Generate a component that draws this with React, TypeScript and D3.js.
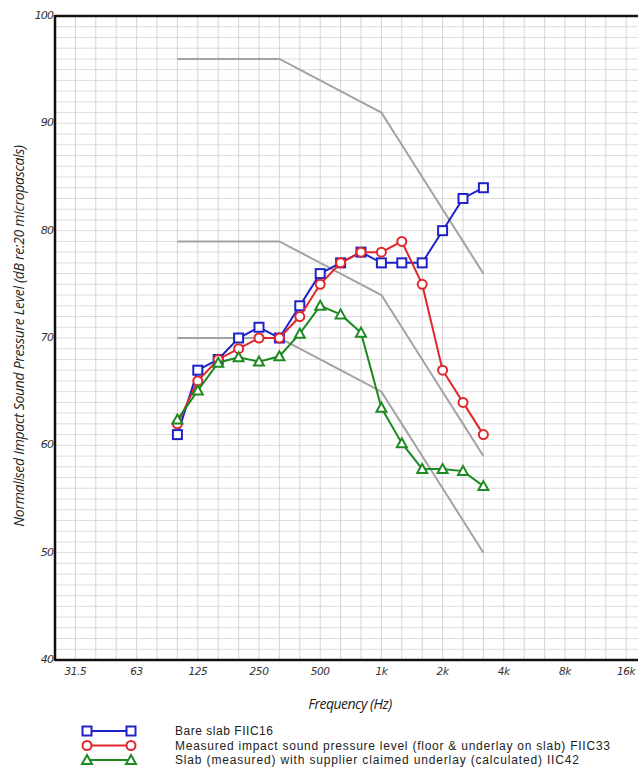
import React from "react";
import * as d3 from "d3";

const bands = ["25","31.5","40","50","63","80","100","125","160","200","250","315","400","500","630","800","1000","1250","1600","2000","2500","3150","4000","5000","6300","8000","10000","12500","16000","20000"];
const dataBands = ["100","125","160","200","250","315","400","500","630","800","1000","1250","1600","2000","2500","3150"];
const bareSlab = [61, 67, 68, 70, 71, 70, 73, 76, 77, 78, 77, 77, 77, 80, 83, 84];
const measured = [62, 66, 68, 69, 70, 70, 72, 75, 77, 78, 78, 79, 75, 67, 64, 61];
const claimed = [62.4, 65.1, 67.7, 68.2, 67.8, 68.3, 70.4, 73, 72.2, 70.5, 63.5, 60.2, 57.8, 57.8, 57.6, 56.2];
const refTop = [96, 96, 96, 96, 96, 96, 95, 94, 93, 92, 91, 88, 85, 82, 79, 76];
const refMid = [79, 79, 79, 79, 79, 79, 78, 77, 76, 75, 74, 71, 68, 65, 62, 59];
const refLow = [70, 70, 70, 70, 70, 70, 69, 68, 67, 66, 65, 62, 59, 56, 53, 50];
const xTickBands = ["31.5","63","125","250","500","1000","2000","4000","8000","16000"];
const xTickLabels = ["31.5","63","125","250","500","1k","2k","4k","8k","16k"];
const yTicks = [40, 50, 60, 70, 80, 90, 100];
const legendLabels = [
  "Bare slab FIIC16",
  "Measured impact sound pressure level (floor & underlay on slab) FIIC33",
  "Slab (measured) with supplier claimed underlay (calculated) IIC42",
];

const BLUE = "#1f22c8";
const RED = "#e0262a";
const GREEN = "#1e8a22";
const GREY = "#a3a3a3";

const left = 55, top = 16, bottom = 660;
const step = 20.4;

export default function App() {
  const x = d3.scaleLinear().domain([0, bands.length - 1]).range([left, left + (bands.length - 1) * step]);
  const xf = (f: string) => x(bands.indexOf(f));
  const y = d3.scaleLinear().domain([40, 100]).range([bottom, top]);
  const line = d3.line<[number, number]>().x(d => d[0]).y(d => d[1]);
  const pts = (vals: number[]) => dataBands.map((b, i) => [xf(b), y(vals[i])] as [number, number]);
  const right = x(bands.length - 1) + 10;
  const legendWidths = [98, 435, 404];

  const square = (cx: number, cy: number, c: string, k: string) => (
    <rect key={k} x={cx - 4.5} y={cy - 4.5} width={9} height={9} fill="white" stroke={c} strokeWidth={2} />
  );
  const circle = (cx: number, cy: number, c: string, k: string) => (
    <circle key={k} cx={cx} cy={cy} r={4.5} fill="white" stroke={c} strokeWidth={2} />
  );
  const tri = (cx: number, cy: number, c: string, k: string) => (
    <path key={k} d={`M${cx},${cy - 5}L${cx + 5},${cy + 4}L${cx - 5},${cy + 4}Z`} fill="white" stroke={c} strokeWidth={2} />
  );

  const series = [
    { vals: bareSlab, color: BLUE, marker: square },
    { vals: measured, color: RED, marker: circle },
    { vals: claimed, color: GREEN, marker: tri },
  ];

  const hLines = d3.range(41, 100);

  return (
    <svg width={638} height={776} style={{ position: "absolute", left: 0, top: 0, background: "white" }}>
      <rect x={0} y={0} width={638} height={776} fill="white" />
      {/* grid */}
      {hLines.map(v => (
        <line key={"h" + v} x1={left} x2={right} y1={y(v)} y2={y(v)} stroke="#dcdcdc" strokeWidth={1} />
      ))}
      {bands.map((b, i) => i > 0 && (
        <line key={"v" + b} x1={x(i)} x2={x(i)} y1={top} y2={bottom} stroke="#d4d4d4" strokeWidth={1} />
      ))}
      {/* reference contours */}
      {[refTop, refMid, refLow].map((r, i) => (
        <path key={"r" + i} d={line(pts(r)) || ""} fill="none" stroke={GREY} strokeWidth={2} />
      ))}
      {/* series */}
      {series.map((s, si) => (
        <g key={"s" + si}>
          <path d={line(pts(s.vals)) || ""} fill="none" stroke={s.color} strokeWidth={2} />
          {pts(s.vals).map((p, i) => s.marker(p[0], p[1], s.color, si + "-" + i))}
        </g>
      ))}
      {/* frame */}
      <line x1={left} x2={right} y1={top} y2={top} stroke="#111" strokeWidth={2.5} />
      <line x1={left} x2={left} y1={top - 1} y2={bottom + 1} stroke="#111" strokeWidth={2.5} />
      <line x1={left} x2={right} y1={bottom} y2={bottom} stroke="#111" strokeWidth={2.5} />
      {/* y ticks */}
      {yTicks.map(v => (
        <text key={"yt" + v} x={left - 2} y={y(v) + 3} textAnchor="end" fontFamily="DejaVu Sans" fontStyle="italic" fontSize={11} letterSpacing={-0.9} fill="#333">{v}</text>
      ))}
      {/* x ticks */}
      {xTickBands.map((b, i) => (
        <text key={"xt" + b} x={xf(b)} y={675} textAnchor="middle" fontFamily="DejaVu Sans" fontStyle="italic" fontSize={10.5} letterSpacing={-0.4} fill="#333">{xTickLabels[i]}</text>
      ))}
      {/* axis titles */}
      <text x={350} y={709} textAnchor="middle" fontFamily="Open Sans" fontStyle="italic" fontSize={14} letterSpacing={-0.5} fill="#222">Frequency (Hz)</text>
      <text transform={`translate(24,336) rotate(-90)`} textAnchor="middle" fontFamily="Open Sans" fontStyle="italic" fontSize={14} letterSpacing={-0.3} fill="#222">Normalised Impact Sound Pressure Level (dB re:20 micropascals)</text>
      {/* legend */}
      {series.map((s, i) => {
        const ly = 731 + i * 14.5;
        return (
          <g key={"lg" + i}>
            <line x1={87} x2={131} y1={ly} y2={ly} stroke={s.color} strokeWidth={2} />
            {s.marker(87, ly, s.color, "lm1" + i)}
            {s.marker(131, ly, s.color, "lm2" + i)}
            <text x={175} y={ly + 4.3} fontFamily="Liberation Sans" fontSize={12} textLength={legendWidths[i]} lengthAdjust="spacing" fill="#222">{legendLabels[i]}</text>
          </g>
        );
      })}
    </svg>
  );
}
